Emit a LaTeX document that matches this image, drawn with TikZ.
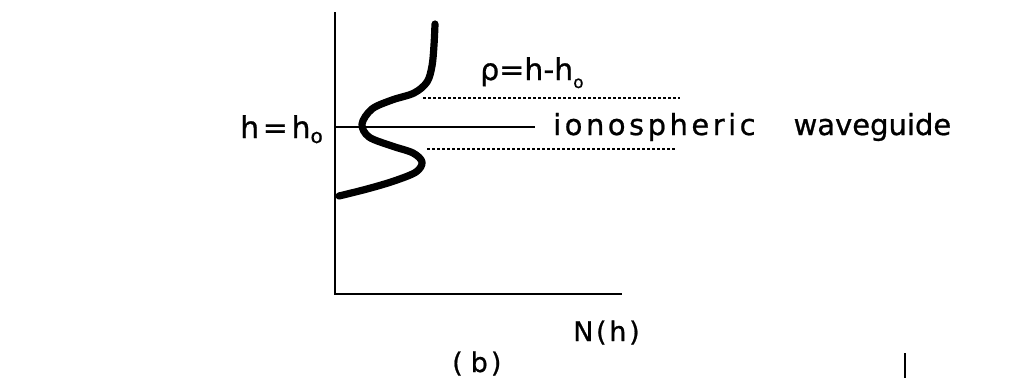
\documentclass[tikz,border=0pt]{standalone}
\usepackage{fontspec}
\setmainfont[FakeBold=0.8]{DejaVu Sans}
\newfontfamily\spaced[LetterSpace=12,FakeBold=0.8]{DejaVu Sans}
\newfontfamily\spacedb[LetterSpace=10,FakeBold=0.8]{DejaVu Sans}
\newcommand{\subo}[2]{\raisebox{-#1pt}{\fontsize{#2}{#2}\selectfont o}}
\begin{document}
\begin{tikzpicture}[x=1pt,y=-1pt,
  axis/.style={line width=1.7pt,black},
  guide/.style={line width=1.5pt,black,dash pattern=on 2.5pt off 2.5pt},
  profile/.style={line width=7.2pt,black,line cap=round,line join=round},
  lbl/.style={inner sep=0pt,anchor=base west,text=black}]
\useasboundingbox (0,0) rectangle (1016,378);
% axes
\coordinate (ytop) at (335,12);
\coordinate (orig) at (335,294);
\coordinate (xend) at (622,294);
\draw[axis] (ytop) -- (orig) -- (xend);
% reference level h = h_o
\coordinate (mid0) at (335,127);
\coordinate (mid1) at (535,127);
\draw[line width=1.6pt] (mid0) -- (mid1);
% guide boundaries
\coordinate (up0) at (423,98);
\coordinate (up1) at (680,98);
\coordinate (lo0) at (427,149);
\coordinate (lo1) at (675,149);
\draw[guide] (up0) -- (up1);
\draw[guide] (lo0) -- (lo1);
% profile
\draw[profile] plot[smooth,tension=0.55] coordinates {
 (435,24) (434,45) (432,66) (427,82) (414,93) (392,100) (372,109)
 (362,124) (369,137) (392,146) (413,153) (422,162) (416,172)
 (394,181) (367,189) (339,196)};
% labels
\node[lbl] (hh) at (240,138) {\fontsize{30}{31}\spaced h=h\subo{5}{20}};
\node[lbl] (rho) at (480,80) {\fontsize{30}{31}\selectfont ρ=h-h\subo{8}{17}};
\node[lbl] (iw) at (553,135) {\fontsize{29}{30}\selectfont{\spaced ionospheric}\hspace{38pt}waveguide};
\node[lbl] (nh) at (573,341) {\fontsize{27}{28}\spacedb N(h)};
\node[lbl] (b) at (452,372) {\fontsize{27}{28}\selectfont(\hspace{8pt}b\hspace{3pt})};
% stray mark
\coordinate (t0) at (905,353);
\coordinate (t1) at (905,378);
\draw[line width=1.8pt] (t0) -- (t1);
\end{tikzpicture}
\end{document}
